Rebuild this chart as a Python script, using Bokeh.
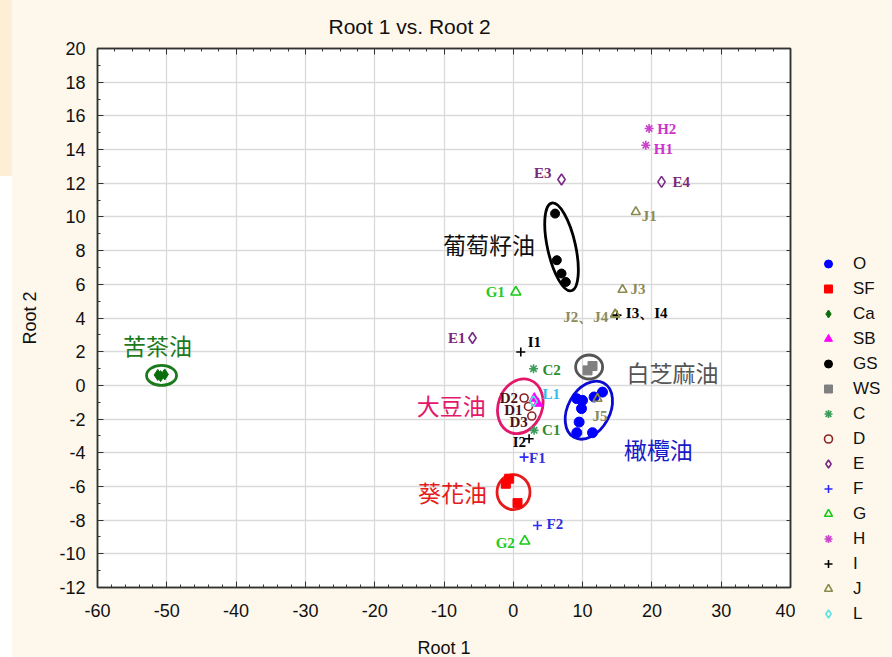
from bokeh.plotting import figure
from bokeh.models import (ColumnDataSource, Legend, LegendItem, LinearAxis, Plot, Scatter,
                          SingleIntervalTicker, Range1d, CustomJSTickFormatter)
from bokeh.layouts import row
from bokeh.core.properties import value
from bokeh.embed import file_html
from bokeh.resources import INLINE

# ---------------- data ----------------
O_x = [9.16, 9.99, 9.84, 9.50, 9.16, 11.43, 12.87, 11.66]
O_y = [-0.79, -0.89, -1.38, -2.18, -2.81, -2.81, -0.40, -0.69]
SF_x = [-1.08, -0.60, 0.61]
SF_y = [-5.84, -5.54, -6.99]
Ca_x = [-51.3, -50.9, -50.3]
Ca_y = [0.62, 0.55, 0.65]
SB_x = [3.03, 3.54]
SB_y = [-0.77, -1.07]
GS_x = [6.03, 6.28, 6.96, 7.58]
GS_y = [10.2, 7.43, 6.64, 6.14]
WS_x = [10.71, 11.43]
WS_y = [0.89, 1.15]
C_x = [3.00, 2.92]
C_y = [-2.67, 0.99]
C_names = ["C1", "C2"]
D_x = [2.19, 1.56, 2.67]
D_y = [-1.25, -0.75, -1.82]
D_names = ["D1", "D2", "D3"]
E_x = [-5.89, 6.96, 21.39]
E_y = [2.81, 12.22, 12.08]
E_names = ["E1", "E3", "E4"]
F_x = [1.56, 3.49]
F_y = [-4.26, -8.32]
F_names = ["F1", "F2"]
G_x = [0.36, 1.66]
G_y = [5.54, -9.25]
G_names = ["G1", "G2"]
H_x = [19.12, 19.60]
H_y = [14.26, 15.25]
H_names = ["H1", "H2"]
I_x = [1.08, 2.28, 14.94, 14.94]
I_y = [1.98, -3.17, 4.16, 4.16]
I_names = ["I1", "I2", "I3", "I4"]
J_x = [17.68, 14.70, 15.76, 14.70, 12.15]
J_y = [10.30, 4.22, 5.68, 4.22, -0.79]
J_names = ["J1", "J2", "J3", "J4", "J5"]
L_x = [2.92]
L_y = [-0.95]
L_names = ["L1"]

legend_labels = ["O", "SF", "Ca", "SB", "GS", "WS", "C", "D", "E", "F", "G", "H", "I", "J", "L"]

# oil-group annotations (label text, centre of label, centre of ring)
oil_names = ["苦茶油", "葡萄籽油", "大豆油", "葵花油", "白芝麻油", "橄欖油"]
oil_label_x = [-51.34, -3.49, -8.95, -8.77, 22.97, 20.92]
oil_label_y = [2.38, 8.42, -1.19, -6.34, 0.79, -3.76]
ring_x = [-50.76, 6.96, 1.01, 0.03, 10.94, 10.90]
ring_y = [0.59, 8.22, -1.24, -6.34, 1.09, -1.47]

x_axis_label = "Root 1"
y_axis_label = "Root 2"
title_text = "Root 1 vs. Root 2"

# ---------------- styles ----------------
CREAM = "#fef8ec"
H_TOTAL = 656
ring_w = [30, 28, 44, 33, 27, 42]
ring_h = [20, 90, 56, 35, 24, 62]
ring_a = [0.0, 0.22, -0.35, 0.0, 0.0, -0.5]
ring_col = ["#1b7a1b", "#000000", "#e3186b", "#e51c1c", "#555555", "#0a0ad0"]
oil_col = ["#1b7a1b", "#111111", "#e3186b", "#e51c1c", "#555555", "#1a1ac8"]

lab_pos = {
    "C1": (8, 0, "left"), "C2": (9, 1, "left"),
    "D1": (-6, 4, "right"), "D2": (-6, 0, "right"), "D3": (-4, 6, "right"),
    "E1": (-7, 0, "right"), "E3": (-10, -7, "right"), "E4": (11, 0, "left"),
    "F1": (5, 1, "left"), "F2": (9, -2, "left"),
    "G1": (-11, 0, "right"), "G2": (-10, 2, "right"),
    "H1": (8, 4, "left"), "H2": (8, 0, "left"),
    "I1": (7, -10, "left"), "I2": (-3, 3, "right"), "I3": (9, -2, "left"), "I4": (0, 0, "left"),
    "J1": (6, 4, "left"), "J2": (-7, 3, "right"), "J3": (8, -1, "left"), "J4": (0, 0, "left"),
    "J5": (-5, 17, "left"),
    "L1": (9, -7, "left"),
}
lab_text = {"J2": "J2、J4", "J4": "", "I3": "I3、I4", "I4": ""}

p = figure(frame_width=693, frame_height=539,
           x_range=Range1d(-60, 40), y_range=Range1d(-12, 20),
           output_backend="svg", toolbar_location=None,
           min_border_left=97, min_border_right=5, min_border_top=48,
           min_border_bottom=H_TOTAL - 48 - 539,
           border_fill_color=None, background_fill_color="white",
           outline_line_color="#333333", outline_line_width=1.5)

p.title.text = title_text
p.title.text_font = "Liberation Sans"
p.title.text_font_size = "21px"
p.title.text_font_style = "normal"
p.title.align = "left"
p.title.offset = 231
p.title.standoff = 22
p.title.text_color = "#111111"

hyphen = CustomJSTickFormatter(code="return tick.toFixed(0)")

# axes
p.xaxis.ticker = SingleIntervalTicker(interval=10, num_minor_ticks=5)
p.yaxis.ticker = SingleIntervalTicker(interval=2, num_minor_ticks=2)
for ax in (p.xaxis[0], p.yaxis[0]):
    ax.formatter = hyphen
    ax.major_label_text_font = "Liberation Sans"
    ax.major_label_text_font_size = "18px"
    ax.major_label_text_color = "#111111"
    ax.axis_label_text_font = "Liberation Sans"
    ax.axis_label_text_font_size = "18px"
    ax.axis_label_text_font_style = "normal"
    ax.axis_label_text_color = "#111111"
    ax.major_tick_in = 6
    ax.major_tick_out = 0
    ax.minor_tick_in = 3
    ax.minor_tick_out = 0
    ax.axis_line_color = "#333333"
    ax.axis_line_width = 1.5
    ax.major_tick_line_color = "#333333"
    ax.minor_tick_line_color = "#333333"
p.xaxis.axis_label = x_axis_label
p.yaxis.axis_label = y_axis_label
p.xaxis.major_label_standoff = 16
p.xaxis.axis_label_standoff = 18
p.yaxis.major_label_standoff = 12
p.yaxis.axis_label_standoff = 16

blank = CustomJSTickFormatter(code="return ''")
top_ax = LinearAxis(ticker=SingleIntervalTicker(interval=10, num_minor_ticks=4),
                    formatter=blank, major_label_standoff=0,
                    major_tick_in=6, major_tick_out=0, minor_tick_in=3, minor_tick_out=0,
                    axis_line_color="#333333", axis_line_width=1.5,
                    major_tick_line_color="#333333", minor_tick_line_color="#333333")
right_ax = LinearAxis(ticker=SingleIntervalTicker(interval=2, num_minor_ticks=0),
                      formatter=blank, major_label_standoff=0,
                      major_tick_in=4, major_tick_out=0, minor_tick_in=0, minor_tick_out=0,
                      axis_line_color="#333333", axis_line_width=1.5,
                      major_tick_line_color="#333333")
p.add_layout(top_ax, "above")
p.add_layout(right_ax, "right")

p.xgrid.ticker = SingleIntervalTicker(interval=10)
p.ygrid.ticker = SingleIntervalTicker(interval=2)
p.grid.grid_line_color = "#dadada"
p.grid.grid_line_width = 1.3

# group rings
ring_src = ColumnDataSource(dict(x=ring_x, y=ring_y, w=ring_w, h=ring_h, a=ring_a, c=ring_col))
p.ellipse(x="x", y="y", width="w", height="h", angle="a", source=ring_src,
          width_units="screen", height_units="screen",
          fill_alpha=0, line_color="c", line_width=2.8)

# markers
groups = [
    ("O", O_x, O_y, "circle", "#0000ff", True, 10),
    ("SF", SF_x, SF_y, "square", "#ff0000", True, 9),
    ("Ca", Ca_x, Ca_y, "diamond", "#0b6e0b", True, 11),
    ("SB", SB_x, SB_y, "triangle", "#ff00ff", True, 10),
    ("GS", GS_x, GS_y, "circle", "#000000", True, 9),
    ("WS", WS_x, WS_y, "square", "#808080", True, 9),
    ("C", C_x, C_y, "asterisk", "#3c9c5c", False, 9),
    ("D", D_x, D_y, "circle", "#8b2323", False, 8),
    ("E", E_x, E_y, "diamond", "#7b2a88", False, 11),
    ("F", F_x, F_y, "cross", "#2b2bff", False, 9),
    ("G", G_x, G_y, "triangle", "#14cc14", False, 10),
    ("H", H_x, H_y, "asterisk", "#cc44cc", False, 9),
    ("I", I_x, I_y, "cross", "#000000", False, 9),
    ("J", J_x, J_y, "triangle", "#8a8a4c", False, 9),
    ("L", L_x, L_y, "diamond", "#5fe3e3", False, 11),
]


def marker_style(marker, col, filled, size):
    if filled:
        return dict(marker=marker, size=size, fill_color=col, line_color=col, line_width=1)
    return dict(marker=marker, size=size, fill_alpha=0, fill_color=col,
                line_color=col, line_width=1.6)


# legend strip: a small plot beside the chart whose ranges keep the data out of view,
# so only its legend shows (a legend beside the frame would be clipped)
lp = Plot(width=95, height=H_TOTAL, x_range=Range1d(1000, 1001), y_range=Range1d(1000, 1001),
          title=None, toolbar_location=None, output_backend="svg",
          min_border=0, outline_line_color=None,
          background_fill_color=None, border_fill_color=None)

can_unalign = "frame_align" in Plot.properties()
if can_unalign:
    # let the legend strip use its full height instead of the chart's frame height
    p.frame_align = False
    lp.frame_align = False
    leg_loc, leg_h, leg_sp = (23, 32), 21, 4
else:
    leg_loc, leg_h, leg_sp = (23, 0), 20, 2

legend_renderers = {}
for name, xs, ys, marker, col, filled, size in groups:
    st = marker_style(marker, col, filled, size)
    src = ColumnDataSource(dict(x=xs, y=ys))
    p.scatter("x", "y", source=src, **st)
    legend_renderers[name] = lp.add_glyph(src, Scatter(x="x", y="y", **st))

# point labels
label_groups = [
    (C_x, C_y, C_names, "#2e8b2e"),
    (D_x, D_y, D_names, "#4a1212"),
    (E_x, E_y, E_names, "#7a2a7a"),
    (F_x, F_y, F_names, "#3030e0"),
    (G_x, G_y, G_names, "#22cc22"),
    (H_x, H_y, H_names, "#cc33cc"),
    (I_x, I_y, I_names, "#000000"),
    (J_x, J_y, J_names, "#8b8b5a"),
    (L_x, L_y, L_names, "#33bbee"),
]
for xs, ys, names, col in label_groups:
    src = ColumnDataSource(dict(
        x=xs, y=ys,
        t=[lab_text.get(n, n) for n in names],
        dx=[lab_pos[n][0] for n in names],
        dy=[lab_pos[n][1] for n in names],
        al=[lab_pos[n][2] for n in names]))
    p.text(x="x", y="y", text="t", x_offset="dx", y_offset="dy", text_align="al",
           text_baseline="middle", source=src, text_color=col,
           text_font=value("Liberation Serif"), text_font_style="bold",
           text_font_size="15px")

# oil names
oil_src = ColumnDataSource(dict(x=oil_label_x, y=oil_label_y, t=oil_names, c=oil_col))
p.text(x="x", y="y", text="t", source=oil_src, text_color="c",
       text_align="center", text_baseline="middle",
       text_font=value("Noto Sans CJK TC"), text_font_size="23px")

legend = Legend(items=[LegendItem(label=n, renderers=[legend_renderers[n]]) for n in legend_labels],
                location=leg_loc,
                label_text_font="Liberation Sans", label_text_font_size="17px",
                label_text_color="#111111",
                glyph_width=20, glyph_height=leg_h, label_height=leg_h, spacing=leg_sp,
                padding=0, margin=0, label_standoff=15,
                background_fill_alpha=0, border_line_alpha=0)
lp.add_layout(legend)

layout = row(p, lp)
html = file_html(layout, INLINE)
css = ("<style>html,body{background:"
       "linear-gradient(#fdefd6,#fdefd6) 0 0/12px 176px no-repeat,"
       "linear-gradient(#ffffff,#ffffff) 0 176px/12px 100% no-repeat,"
       + CREAM + ";}</style>")
html = html.replace("</head>", css + "</head>", 1)
open("out.html", "w").write(html)
